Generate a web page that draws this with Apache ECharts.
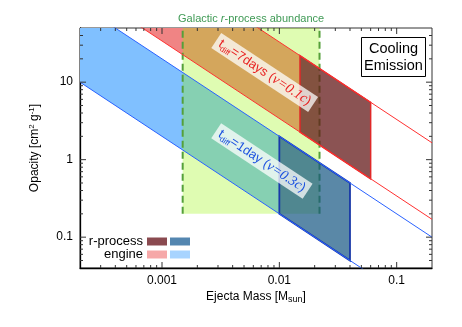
<!DOCTYPE html>
<html>
<head>
<meta charset="utf-8">
<script src="https://cdn.jsdelivr.net/npm/echarts@6.0.0/dist/echarts.min.js"></script>
<style>
html, body { margin: 0; padding: 0; background: #fff; }
#chart { width: 462px; height: 327px; }
</style>
</head>
<body>
<div id="chart"></div>
<script>
var massRange = [0.0002, 0.2];
var opacityRange = [0.04, 50];
var xTickValues = [0.001, 0.01, 0.1];
var xTickLabels = ['0.001', '0.01', '0.1'];
var yTickValues = [0.1, 1, 10];
var yTickLabels = ['0.1', '1', '10'];

// bands follow kappa * M = const (fixed diffusion time and velocity)
var blueKappaM = [0.002, 0.02];   // t_diff = 1 day, v = 0.3c
var redKappaM = [0.034, 0.33];    // t_diff = 7 days, v = 0.1c
var blueEngineMass = [0.0002, 0.01];
var blueRprocessMass = [0.01, 0.04];
var redEngineMass = [0.0002, 0.015];
var redRprocessMass = [0.015, 0.06];
var galacticMass = [0.0015, 0.022];
var galacticOpacity = [0.2, 50];
var labelMass = [0.0075, 0.0071];
var labelOpacity = [13.3, 0.96];

var FONT = 'Liberation Sans, Arial, sans-serif';
var SERIF = 'Liberation Serif, DejaVu Serif, serif';

var chart = echarts.init(document.getElementById('chart'));

var makeBand = function (name, mass, kappaM, fill, stroke, lw) {
    return {
        name: name,
        type: 'custom',
        clip: true,
        silent: true,
        data: [[mass[0], mass[1], kappaM[0], kappaM[1]]],
        renderItem: function (params, api) {
            var m0 = api.value(0), m1 = api.value(1), c0 = api.value(2), c1 = api.value(3);
            var pts = [[m0, c0 / m0], [m1, c0 / m1], [m1, c1 / m1], [m0, c1 / m0]].map(function (p) {
                return api.coord(p);
            });
            return {
                type: 'polygon',
                shape: { points: pts },
                style: { fill: fill, stroke: stroke || null, lineWidth: lw || 0 }
            };
        }
    };
};

var makeLine = function (c, color) {
    return {
        type: 'line',
        silent: true,
        symbol: 'none',
        clip: true,
        lineStyle: { color: color, width: 1 },
        data: [[massRange[0], c / massRange[0]], [massRange[1], c / massRange[1]]]
    };
};

var galactic = {
    type: 'custom',
    silent: true,
    data: [[galacticMass[0], galacticMass[1], galacticOpacity[0], galacticOpacity[1]]],
    renderItem: function (params, api) {
        var top = Math.min(api.value(3), opacityRange[1]);
        var p0 = api.coord([api.value(0), api.value(2)]);
        var p1 = api.coord([api.value(1), top]);
        var dash = { stroke: '#55a03a', lineWidth: 2, lineDash: [7, 4] };
        return {
            type: 'group',
            children: [
                { type: 'rect', shape: { x: p0[0], y: p1[1], width: p1[0] - p0[0], height: p0[1] - p1[1] },
                  style: { fill: 'rgba(150,245,0,0.3)' } },
                { type: 'line', shape: { x1: p0[0], y1: p0[1], x2: p0[0], y2: p1[1] }, style: dash },
                { type: 'line', shape: { x1: p1[0], y1: p0[1], x2: p1[0], y2: p1[1] }, style: dash },
                { type: 'text', x: (p0[0] + p1[0]) / 2, y: p1[1] - 9,
                  style: { text: 'Galactic {i|r}-process abundance', fill: '#3f9a55', font: '11px ' + FONT,
                           align: 'center', verticalAlign: 'middle',
                           rich: { i: { fontStyle: 'italic', fontSize: 11, fontFamily: FONT } } } }
            ]
        };
    }
};

var makeLabel = function (idx, text, color) {
    return {
        type: 'custom',
        silent: true,
        data: [[labelMass[idx], labelOpacity[idx]]],
        renderItem: function (params, api) {
            var m = api.value(0), k = api.value(1);
            var a = api.coord([m / 2, k * 2]), b = api.coord([m * 2, k / 2]);
            var p = api.coord([m, k]);
            var ang = Math.atan2(b[1] - a[1], b[0] - a[0]);
            return {
                type: 'text',
                x: p[0], y: p[1], rotation: -ang,
                style: {
                    text: text,
                    fill: color,
                    font: '13px ' + FONT,
                    align: 'center', verticalAlign: 'middle',
                    backgroundColor: 'rgba(255,255,255,0.75)',
                    padding: [1, 4, 1, 4],
                    rich: {
                        m: { fontSize: 13, fontFamily: FONT, lineHeight: 16 },
                        sub: { fontSize: 8, fontFamily: FONT, verticalAlign: 'bottom', lineHeight: 12 },
                        g: { fontSize: 14, fontFamily: SERIF, fontStyle: 'italic', lineHeight: 16 }
                    }
                }
            };
        }
    };
};

// tick marks on all four sides, plus major tick labels
var tickData = [];
[-4, -3, -2, -1].forEach(function (e) {
    for (var k = 1; k <= 9; k++) {
        var v = k * Math.pow(10, e);
        if (v > massRange[0] && v < massRange[1]) {
            tickData.push([v, opacityRange[0], 0, k === 1 ? xTickValues.indexOf(+v.toPrecision(3)) : -1]);
        }
    }
});
[-2, -1, 0, 1].forEach(function (e) {
    for (var k = 1; k <= 9; k++) {
        var v = k * Math.pow(10, e);
        if (v > opacityRange[0] && v < opacityRange[1]) {
            tickData.push([massRange[0], v, 1, k === 1 ? yTickValues.indexOf(+v.toPrecision(3)) : -1]);
        }
    }
});

var ticks = {
    type: 'custom',
    silent: true,
    z: 10,
    data: tickData,
    renderItem: function (params, api) {
        var isY = api.value(2) === 1, li = api.value(3);
        var len = li >= 0 ? 6 : 3;
        var lo = api.coord([massRange[0], opacityRange[0]]);
        var hi = api.coord([massRange[1], opacityRange[1]]);
        var p = api.coord([api.value(0), api.value(1)]);
        var st = { stroke: '#333', lineWidth: 1 };
        var kids = [];
        if (!isY) {
            kids.push({ type: 'line', shape: { x1: p[0], y1: lo[1], x2: p[0], y2: lo[1] - len }, style: st });
            kids.push({ type: 'line', shape: { x1: p[0], y1: hi[1], x2: p[0], y2: hi[1] + len }, style: st });
            if (li >= 0) {
                kids.push({ type: 'text', x: p[0], y: lo[1] + 13,
                    style: { text: xTickLabels[li], fill: '#000', font: '12px ' + FONT, align: 'center', verticalAlign: 'middle' } });
            }
        } else {
            kids.push({ type: 'line', shape: { x1: lo[0], y1: p[1], x2: lo[0] + len, y2: p[1] }, style: st });
            kids.push({ type: 'line', shape: { x1: hi[0], y1: p[1], x2: hi[0] - len, y2: p[1] }, style: st });
            if (li >= 0) {
                kids.push({ type: 'text', x: lo[0] - 7, y: p[1],
                    style: { text: yTickLabels[li], fill: '#000', font: '12px ' + FONT, align: 'right', verticalAlign: 'middle' } });
            }
        }
        return { type: 'group', children: kids };
    }
};

var option = {
    animation: false,
    grid: { left: 80, top: 28, width: 352, height: 240, show: true, borderColor: '#333', borderWidth: 1 },
    xAxis: {
        type: 'log', logBase: 10, min: massRange[0], max: massRange[1],
        axisLine: { show: true, lineStyle: { color: '#000', width: 1.3 } },
        axisTick: { show: false }, axisLabel: { show: false }, splitLine: { show: false }
    },
    yAxis: {
        type: 'log', logBase: 10, min: opacityRange[0], max: opacityRange[1],
        axisLine: { show: true, lineStyle: { color: '#000', width: 1.3 } },
        axisTick: { show: false }, axisLabel: { show: false }, splitLine: { show: false }
    },
    graphic: [
        { type: 'text', x: 256, y: 297, style: {
            text: '{m|Ejecta Mass [M}{sub|sun}{m|]}', fill: '#000', font: '12px ' + FONT, align: 'center', verticalAlign: 'middle',
            rich: { m: { fontSize: 12, fontFamily: FONT, lineHeight: 14 },
                    sub: { fontSize: 9, fontFamily: FONT, verticalAlign: 'bottom', lineHeight: 10 } } } },
        { type: 'text', x: 35, y: 148, rotation: Math.PI / 2, style: {
            text: '{m|Opacity [cm}{sup|2}{m| g}{sup|-1}{m|]}', fill: '#000', font: '12px ' + FONT, align: 'center', verticalAlign: 'middle',
            rich: { m: { fontSize: 12, fontFamily: FONT, lineHeight: 14 },
                    sup: { fontSize: 8, fontFamily: FONT, verticalAlign: 'top', lineHeight: 10 } } } },
        { type: 'rect', shape: { x: 361.5, y: 37.5, width: 64, height: 39 }, style: { fill: '#fff', stroke: '#000', lineWidth: 1 } },
        { type: 'text', x: 393.5, y: 57, style: {
            text: 'Cooling\nEmission', fill: '#000', font: '14.5px ' + FONT, lineHeight: 17, align: 'center', verticalAlign: 'middle' } },
        { type: 'text', x: 143, y: 241.5, style: { text: 'r-process', fill: '#000', font: '13px ' + FONT, align: 'right', verticalAlign: 'middle' } },
        { type: 'text', x: 143, y: 254.5, style: { text: 'engine', fill: '#000', font: '13px ' + FONT, align: 'right', verticalAlign: 'middle' } },
        { type: 'rect', shape: { x: 147, y: 237.5, width: 20, height: 8 }, style: { fill: '#8a4a50' } },
        { type: 'rect', shape: { x: 170, y: 237.5, width: 20, height: 8 }, style: { fill: '#5486b0' } },
        { type: 'rect', shape: { x: 147, y: 250.5, width: 20, height: 8 }, style: { fill: '#f6a8a8' } },
        { type: 'rect', shape: { x: 170, y: 250.5, width: 20, height: 8 }, style: { fill: '#a8d4ff' } }
    ],
    series: [
        makeBand('engine-red', redEngineMass, redKappaM, '#f08484'),
        makeBand('engine-blue', blueEngineMass, blueKappaM, '#80c0ff'),
        galactic,
        makeBand('rprocess-red', redRprocessMass, redKappaM, 'rgba(100,25,25,0.75)', '#e02828', 1.5),
        makeBand('rprocess-blue', blueRprocessMass, blueKappaM, 'rgba(20,85,130,0.7)', '#1838a8', 1.8),
        makeLine(redKappaM[0], '#ff3030'),
        makeLine(redKappaM[1], '#ff3030'),
        makeLine(blueKappaM[0], '#2a62ff'),
        makeLine(blueKappaM[1], '#2a62ff'),
        makeLabel(0, '{m|t}{sub|diff}{m|=7days (}{g|ν=0.1c}{m|)}', '#e82020'),
        makeLabel(1, '{m|t}{sub|diff}{m|=1day (}{g|ν=0.3c}{m|)}', '#1a50e0'),
        ticks
    ]
};
chart.setOption(option);
</script>
</body>
</html>
